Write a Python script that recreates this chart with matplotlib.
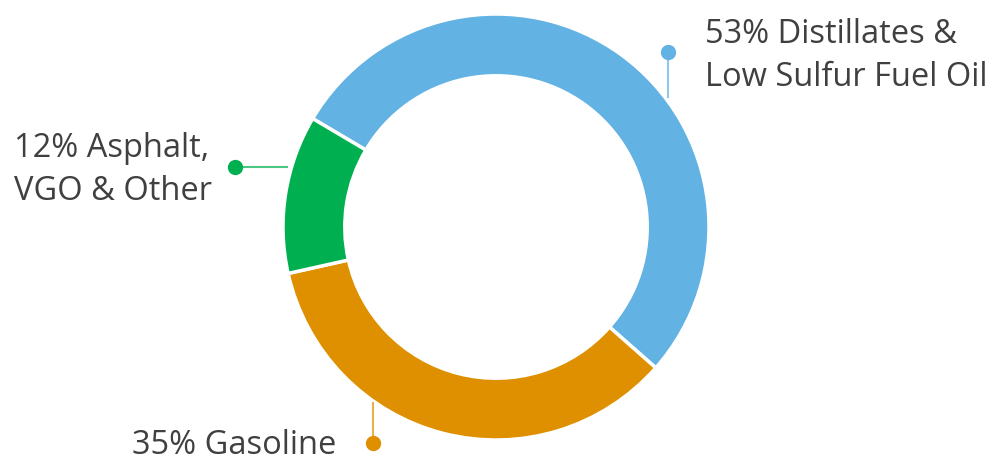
import matplotlib
matplotlib.use('Agg')
import matplotlib.pyplot as plt

labels = ['53% Distillates &\nLow Sulfur Fuel Oil', '35% Gasoline', '12% Asphalt,\nVGO & Other']
shares = [53, 35, 12]
colors = ['#62B2E4', '#DE9000', '#00AF50']

W, H = 989, 462
CX, CY, R = 496, 227, 213


def px(x, y):
    # pixel position (from top-left) -> data units of the pie axes
    return (x - CX) / R, (CY - y) / R


fig = plt.figure(figsize=(W / 100, H / 100), dpi=100)
ax = fig.add_axes([0, 0, 1, 1])
ax.pie(shares, colors=colors, startangle=149.4, counterclock=False,
       radius=1.0, wedgeprops=dict(width=0.29, edgecolor='white', linewidth=2.5))
ax.set_xlim(px(0, 0)[0], px(W, 0)[0])
ax.set_ylim(px(0, H)[1], px(0, 0)[1])
ax.set_aspect('equal')
ax.axis('off')

# leader lines: (dot, end on ring, text anchor)
leaders = [
    ((668, 52), (668, 97), (705, 56)),
    ((373, 443), (373, 403), (132, 445)),
    ((235, 167), (287, 167), (14, 170)),
]
for (d, e, t), lab, c in zip(leaders, labels, colors):
    x0, y0 = px(*d)
    x1, y1 = px(*e)
    ax.plot([x0, x1], [y0, y1], color=c, lw=1.5, alpha=0.7, zorder=1)
    ax.plot(x0, y0, 'o', color=c, ms=10, zorder=3)
    tx, ty = px(*t)
    ax.text(tx, ty, lab, ha='left', va='center', fontsize=23.5, color='#404040',
            family='Open Sans', linespacing=1.42)

fig.savefig('out.png', dpi=100)
